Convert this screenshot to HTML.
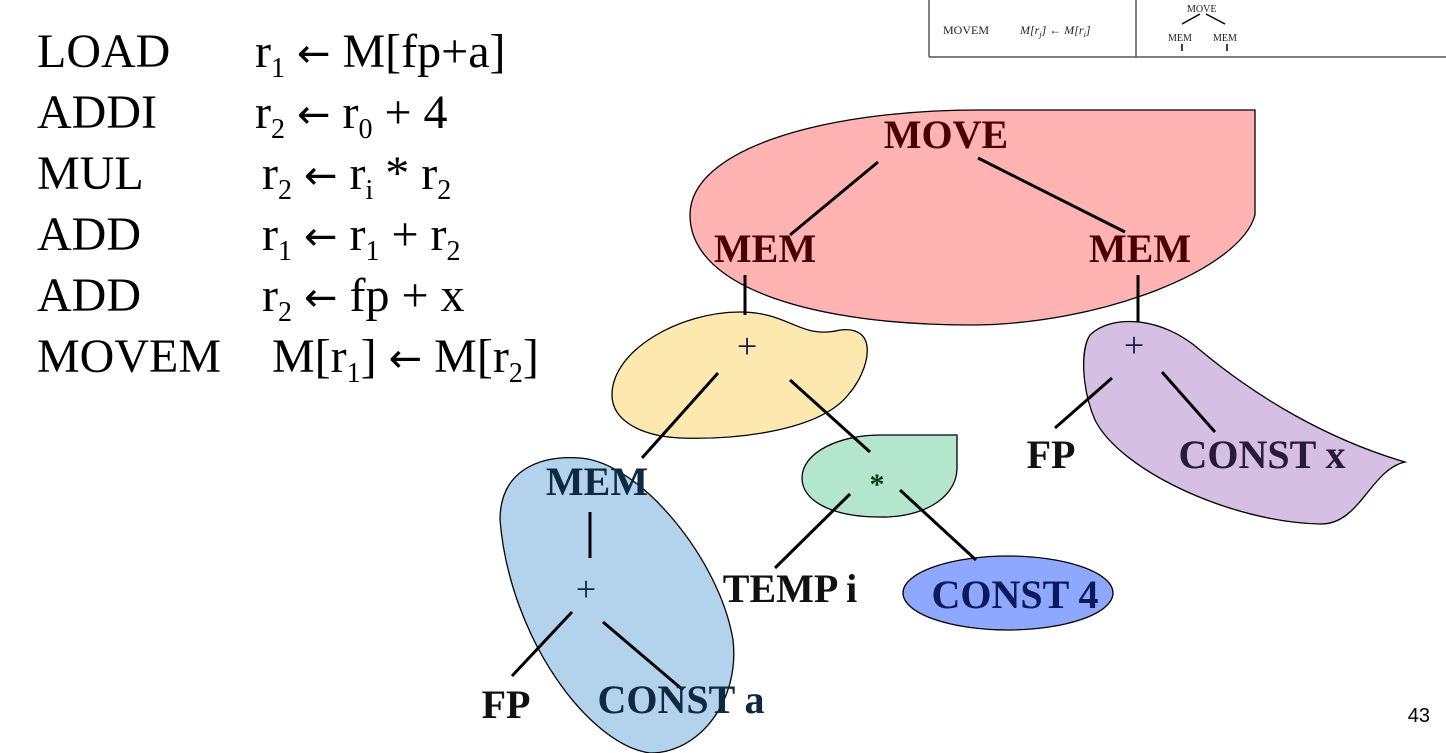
<!DOCTYPE html>
<html><head><meta charset="utf-8"><style>
body{margin:0;width:1446px;height:753px;overflow:hidden;background:#fff;font-family:"Liberation Serif",serif}
svg{position:absolute;left:0;top:0}
</style></head><body>
<svg width="1446" height="753">
<g font-size="48" font-family="Liberation Serif, serif" fill="#000">
<text x="37" y="67">LOAD</text><text x="255" y="67">r<tspan font-size="28" dy="10">1</tspan><tspan dy="-10"> </tspan><tspan font-family="DejaVu Sans" font-size="40">←</tspan><tspan> M[fp+a]</tspan></text>
<text x="37" y="128">ADDI</text><text x="255" y="128">r<tspan font-size="28" dy="10">2</tspan><tspan dy="-10"> </tspan><tspan font-family="DejaVu Sans" font-size="40">←</tspan><tspan> r</tspan><tspan font-size="28" dy="10">0</tspan><tspan dy="-10"> + 4</tspan></text>
<text x="37" y="189">MUL</text><text x="262" y="189">r<tspan font-size="28" dy="10">2</tspan><tspan dy="-10"> </tspan><tspan font-family="DejaVu Sans" font-size="40">←</tspan><tspan> r</tspan><tspan font-size="28" dy="10">i</tspan><tspan dy="-10"> * r</tspan><tspan font-size="28" dy="10">2</tspan></text>
<text x="37" y="250">ADD</text><text x="262" y="250">r<tspan font-size="28" dy="10">1</tspan><tspan dy="-10"> </tspan><tspan font-family="DejaVu Sans" font-size="40">←</tspan><tspan> r</tspan><tspan font-size="28" dy="10">1</tspan><tspan dy="-10"> + r</tspan><tspan font-size="28" dy="10">2</tspan></text>
<text x="37" y="311">ADD</text><text x="262" y="311">r<tspan font-size="28" dy="10">2</tspan><tspan dy="-10"> </tspan><tspan font-family="DejaVu Sans" font-size="40">←</tspan><tspan> fp + x</tspan></text>
<text x="37" y="372">MOVEM</text><text x="272" y="372">M[r<tspan font-size="28" dy="10">1</tspan><tspan dy="-10">] </tspan><tspan font-family="DejaVu Sans" font-size="40">←</tspan><tspan> M[r</tspan><tspan font-size="28" dy="10">2</tspan><tspan dy="-10">]</tspan></text>
</g>
<g stroke="#555" stroke-width="1.5" fill="none">
<line x1="929" y1="0" x2="929" y2="57"/><line x1="929" y1="57" x2="1446" y2="57"/><line x1="1136" y1="0" x2="1136" y2="57"/>
<line x1="1182" y1="24" x2="1200" y2="14" stroke="#000"/><line x1="1206" y1="14" x2="1225" y2="24" stroke="#000"/>
<line x1="1182" y1="44" x2="1182" y2="51" stroke="#000"/><line x1="1227" y1="44" x2="1227" y2="51" stroke="#000"/>
</g>
<g font-size="12" fill="#222">
<text x="943" y="34">MOVEM</text><text x="1020" y="34" font-style="italic">M[r<tspan font-size="8" dy="3">j</tspan><tspan dy="-3">] ← M[r</tspan><tspan font-size="8" dy="3">i</tspan><tspan dy="-3">]</tspan></text>
<text x="1187" y="12" font-size="10">MOVE</text><text x="1168" y="41" font-size="10">MEM</text><text x="1213" y="41" font-size="10">MEM</text>
</g>
<g stroke="#000" stroke-width="1.3">
<path fill="#ffb3b3" d="M1255,110 L1255,215 C1240,270 1100,325 970,325 C820,325 690,290 690,215 C690,150 820,110 980,110 Z"/>
<path fill="#fde9b0" d="M612,395 C612,350 680,312 740,312 C790,312 800,340 840,330 C880,325 870,370 848,395 C820,430 740,440 680,438 C640,436 612,420 612,395 Z"/>
<path fill="#b3d3ec" d="M500,520 C500,470 540,455 580,458 C640,462 720,560 733,640 C740,700 700,753 650,753 C590,745 510,640 500,520 Z"/>
<path fill="#b3e6cc" d="M957,435 L957,470 C955,500 920,518 880,517 C830,517 802,500 802,478 C802,452 840,435 880,435 Z"/>
<ellipse cx="1008" cy="593" rx="105" ry="37" fill="#8fa8ff"/>
<path fill="#d5bfe2" d="M1090,335 C1110,315 1160,315 1200,350 C1260,400 1330,440 1405,462 C1370,470 1360,525 1320,524 C1230,522 1120,470 1095,420 C1082,390 1080,350 1090,335 Z"/>
</g>
<g stroke="#000" stroke-width="3">
<line x1="878" y1="162" x2="790" y2="235"/><line x1="978" y1="158" x2="1125" y2="232"/>
<line x1="745" y1="275" x2="745" y2="315"/><line x1="718" y1="373" x2="642" y2="458"/><line x1="790" y1="380" x2="870" y2="452"/>
<line x1="590" y1="512" x2="590" y2="558"/><line x1="572" y1="612" x2="512" y2="676"/><line x1="603" y1="622" x2="683" y2="690"/>
<line x1="850" y1="494" x2="775" y2="568"/><line x1="900" y1="490" x2="976" y2="560"/>
<line x1="1138" y1="275" x2="1138" y2="322"/><line x1="1112" y1="378" x2="1055" y2="428"/><line x1="1162" y1="372" x2="1215" y2="432"/>
</g>
<g font-weight="bold" font-size="40" fill="#111" text-anchor="middle">
<text x="946" y="148" fill="#4a0000">MOVE</text>
<text x="765" y="262" fill="#4a0000">MEM</text><text x="1140" y="262" fill="#4a0000">MEM</text>
<text x="747" y="358" font-weight="normal" font-size="36" fill="#1a1a4a">+</text>
<text x="597" y="495" fill="#0d2a40">MEM</text>
<text x="586" y="601" font-weight="normal" font-size="36" fill="#0d2a40">+</text>
<text x="506" y="718">FP</text><text x="681" y="713" fill="#0d2a40">CONST a</text>
<text x="877" y="494" font-size="30" fill="#0a3a1a">*</text>
<text x="790" y="602">TEMP i</text><text x="1015" y="608" fill="#0a1a5a">CONST 4</text>
<text x="1134" y="357" font-weight="normal" font-size="36" fill="#1a1a4a">+</text>
<text x="1051" y="468">FP</text><text x="1262" y="468" fill="#2a1a3a">CONST x</text>
</g>
<text x="1430" y="722" font-family="Liberation Sans, sans-serif" font-size="20" text-anchor="end">43</text>
</svg>
</body></html>
